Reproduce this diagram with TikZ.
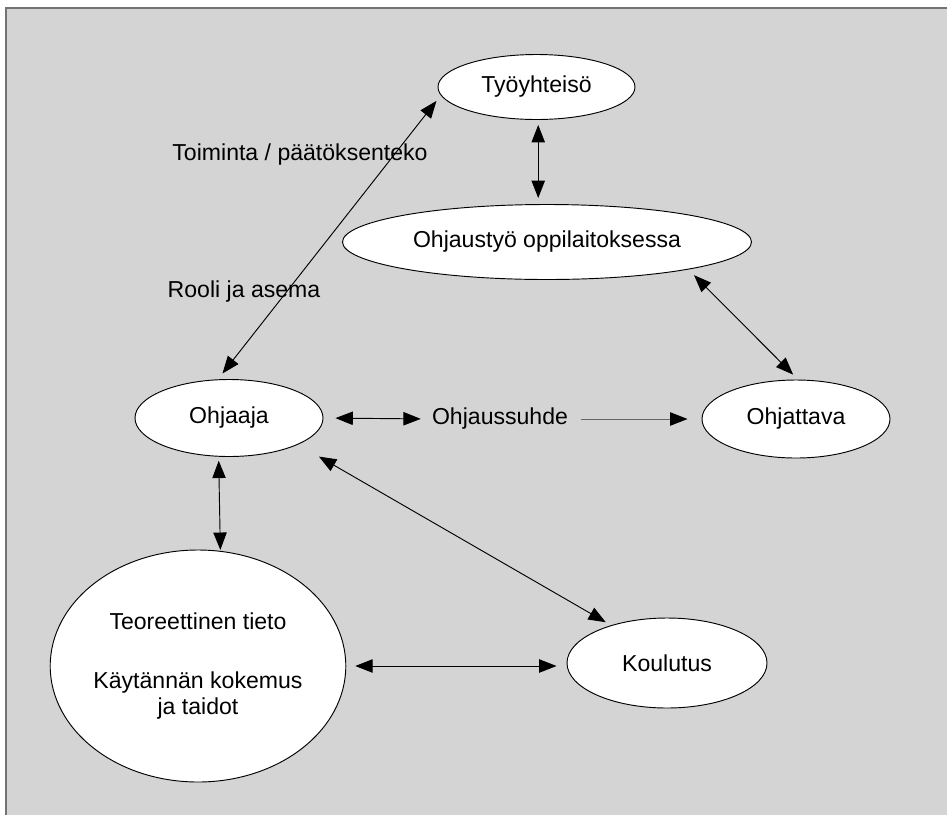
\documentclass[tikz,border=0pt]{standalone}
\usepackage{fontspec}
\setmainfont{Liberation Sans}
\usetikzlibrary{arrows.meta,shapes.geometric}
\begin{document}
\begin{tikzpicture}[x=0.75pt,y=-0.75pt,
  every node/.style={font=\fontsize{17.3}{19.5}\selectfont},
  oval/.style={ellipse,draw=black,line width=0.7pt,fill=white,inner sep=0pt},
  lbl/.style={inner sep=0pt},
  conn/.style={line width=0.7pt,{Triangle[length=13pt,width=10pt]}-{Triangle[length=13pt,width=10pt]}},
  one/.style={line width=0.7pt,draw=black!60,-{Triangle[length=13pt,width=10pt,color=black]}},
]
\useasboundingbox (0,0) rectangle (947,815);
\fill[black!17] (6,8) rectangle (947,815);
\draw[black!55,line width=1.2pt] (6,815) -- (6,8) -- (947,8);

\node[oval,minimum width=0.75*197pt,minimum height=0.75*65pt] (tyo) at (536.5,87) {Työyhteisö};
\node[oval,minimum width=0.75*409pt,minimum height=0.75*75pt] (ohjtyo) at (547,242) {Ohjaustyö oppilaitoksessa};
\node[oval,minimum width=0.75*188pt,minimum height=0.75*77pt] (ohjaaja) at (229,418) {Ohjaaja};
\node[oval,minimum width=0.75*188pt,minimum height=0.75*78pt] (ohjattava) at (796,419) {Ohjattava};
\node[oval,minimum width=0.75*200pt,minimum height=0.75*90pt] (koul) at (667,663) {Koulutus};
\node[oval,minimum width=0.75*266pt,minimum height=0.75*232pt,align=center] (teo) at (198,666)
  {Teoreettinen tieto\\[25pt]Käytännän kokemus\\ja taidot};

\node[lbl] (toim) at (300,155) {Toiminta / päätöksenteko};
\node[lbl] (rooli) at (244,292) {Rooli ja asema};
\node[lbl] (suhde) at (500,419) {Ohjaussuhde};

\draw[conn,shorten <=0.75*5pt,shorten >=0.75*6pt] (tyo.-87) -- (tyo.-87 |- ohjtyo.north);
\draw[conn,shorten <=0.75*7.4pt,shorten >=0.75*7pt] (ohjaaja.106.9) -- (tyo.185.8);
\draw[conn,shorten <=0.75*8pt,shorten >=0.75*7pt] (ohjtyo.-11) -- (ohjattava.87);
\draw[conn,shorten <=0.75*12pt,shorten >=0.75*11pt] (ohjaaja.east) -- (suhde.west);
\draw[one,shorten <=0.75*13pt,shorten >=0.75*14pt] (suhde.east) -- (ohjattava.west);
\draw[conn,shorten <=0.75*24pt,shorten >=0.75*6pt] (ohjaaja.-21.9) -- (koul.146.9);
\draw[conn,shorten <=0.75*4pt,shorten >=0.75*1pt] (ohjaaja.255.4) -- (teo.79.6);
\draw[conn,shorten <=0.75*9pt,shorten >=0.75*10pt] (teo.east) -- (teo.east -| koul.west);
\end{tikzpicture}
\end{document}
